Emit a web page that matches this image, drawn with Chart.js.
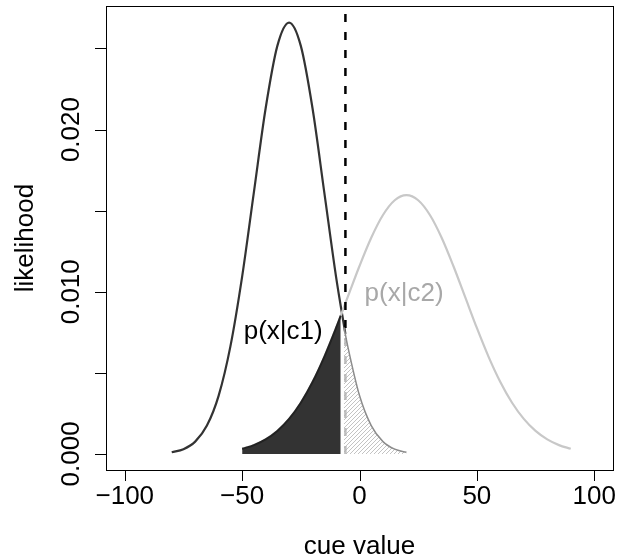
<!DOCTYPE html>
<html>
<head>
<meta charset="utf-8">
<script src="https://cdn.jsdelivr.net/npm/chart.js@4/dist/chart.umd.min.js"></script>
<style>
  html, body { margin: 0; padding: 0; background: #fff; }
  #wrap { width: 618px; height: 559px; }
</style>
</head>
<body>
<div id="wrap"><canvas id="chart" width="618" height="559"></canvas></div>
<script>
// Curve p(x|c1), visible up to the criterion
const c1X = [-80, -75, -70, -65, -60, -55, -50, -45, -40, -35, -30, -25, -20, -15, -10, -6];
const c1Y = [0.000103, 0.000295, 0.000760, 0.001748, 0.003599, 0.006632, 0.010934, 0.016131,
             0.021297, 0.025159, 0.026596, 0.025159, 0.021297, 0.016131, 0.010934, 0.007395];

// Curve p(x|c2)
const c2X = [-50, -45, -40, -35, -30, -25, -20, -15, -10, -5, 0, 5, 10, 15, 20,
             25, 30, 35, 40, 45, 50, 55, 60, 65, 70, 75, 80, 85, 90];
const c2Y = [0.000317, 0.000543, 0.000896, 0.001419, 0.002160, 0.003158, 0.004437, 0.005989,
             0.007768, 0.009679, 0.011588, 0.013329, 0.014731, 0.015642, 0.015958,
             0.015642, 0.014731, 0.013329, 0.011588, 0.009679, 0.007768, 0.005989,
             0.004437, 0.003158, 0.002160, 0.001419, 0.000896, 0.000543, 0.000317];

// Dark area: c2 left of criterion
const darkX = [-50, -45, -40, -35, -30, -25, -20, -15, -10, -8];
const darkY = [0.000317, 0.000543, 0.000896, 0.001419, 0.002160, 0.003158, 0.004437, 0.005989, 0.007768, 0.008523];

// Hatched area: c1 right of criterion
const hatchX = [-6.6, -5, 0, 5, 10, 15, 20];
const hatchY = [0.007796, 0.006632, 0.003599, 0.001748, 0.000760, 0.000295, 0.000103];

const criterion = -6;
const critTop = 0.02762;

const xTicks = [-100, -50, 0, 50, 100];
const yTicks = [0, 0.005, 0.010, 0.015, 0.020, 0.025];
const yTickLabels = ['0.000', '', '0.010', '', '0.020', ''];

const curveLabels = ['p(x|c1)', 'p(x|c2)'];
const curveLabelX = [-32.5, 19];
const curveLabelY = [0.0075, 0.0099];

const FONT = '"Liberation Sans", Arial, sans-serif';

function pts(xs, ys) {
    return xs.map((x, i) => ({ x: x, y: ys[i] }));
}

// diagonal hatch, like R's polygon density lines
function makeHatch() {
    const c = document.createElement('canvas');
    c.width = 4; c.height = 4;
    const g = c.getContext('2d');
    g.fillStyle = 'rgba(255,255,255,0.75)';
    g.fillRect(0, 0, 4, 4);
    g.strokeStyle = '#b4b4b4';
    g.lineWidth = 0.8;
    g.beginPath();
    g.moveTo(0, 4); g.lineTo(4, 0);
    g.moveTo(-1, 1); g.lineTo(1, -1);
    g.moveTo(3, 5); g.lineTo(5, 3);
    g.stroke();
    return g.createPattern(c, 'repeat');
}

// R style frame, ticks and labels
const rAxes = {
    id: 'rAxes',
    afterDraw(chart) {
        const ctx = chart.ctx;
        const a = chart.chartArea;
        const xs = chart.scales.x;
        const ys = chart.scales.y;
        ctx.save();
        ctx.strokeStyle = '#000';
        ctx.lineWidth = 1;
        ctx.strokeRect(Math.round(a.left) + 0.5, Math.round(a.top) + 0.5,
                       Math.round(a.right - a.left), Math.round(a.bottom - a.top));

        ctx.fillStyle = '#000';
        ctx.font = '26px ' + FONT;

        // x axis
        ctx.textAlign = 'center';
        ctx.textBaseline = 'alphabetic';
        ctx.beginPath();
        xTicks.forEach(v => {
            const px = Math.round(xs.getPixelForValue(v)) + 0.5;
            ctx.moveTo(px, a.bottom);
            ctx.lineTo(px, a.bottom + 11);
        });
        ctx.stroke();
        xTicks.forEach(v => {
            const txt = v < 0 ? '\u2212' + Math.abs(v) : String(v);
            ctx.fillText(txt, xs.getPixelForValue(v), a.bottom + 34);
        });
        ctx.fillText('cue value', (a.left + a.right) / 2, 554);

        // y axis
        ctx.beginPath();
        yTicks.forEach(v => {
            const py = Math.round(ys.getPixelForValue(v)) + 0.5;
            ctx.moveTo(a.left, py);
            ctx.lineTo(a.left - 11, py);
        });
        ctx.stroke();
        yTicks.forEach((v, i) => {
            if (!yTickLabels[i]) return;
            ctx.save();
            ctx.translate(79, ys.getPixelForValue(v));
            ctx.rotate(-Math.PI / 2);
            ctx.fillText(yTickLabels[i], 0, 0);
            ctx.restore();
        });
        ctx.save();
        ctx.translate(33, (a.top + a.bottom) / 2);
        ctx.rotate(-Math.PI / 2);
        ctx.fillText('likelihood', 0, 0);
        ctx.restore();

        // curve labels
        ctx.textBaseline = 'middle';
        const colors = ['#000', '#a8a8a8'];
        curveLabels.forEach((t, i) => {
            ctx.fillStyle = colors[i];
            ctx.fillText(t, xs.getPixelForValue(curveLabelX[i]), ys.getPixelForValue(curveLabelY[i]));
        });
        ctx.restore();
    }
};

const ctx = document.getElementById('chart').getContext('2d');
new Chart(ctx, {
    type: 'line',
    data: {
        datasets: [
            {
                label: 'hatch',
                data: pts(hatchX, hatchY),
                borderColor: '#8c8c8c',
                borderWidth: 1.5,
                backgroundColor: makeHatch(),
                fill: 'origin',
                cubicInterpolationMode: 'monotone',
                pointRadius: 0,
                order: 1
            },
            {
                label: 'dark',
                data: pts(darkX, darkY),
                borderColor: '#222',
                borderWidth: 2,
                backgroundColor: '#333333',
                fill: 'origin',
                cubicInterpolationMode: 'monotone',
                pointRadius: 0,
                order: 2
            },
            {
                label: 'criterion',
                data: [{ x: criterion, y: 0 }, { x: criterion, y: critTop }],
                borderColor: '#000',
                borderWidth: 2.5,
                borderDash: [8, 10],
                tension: 0,
                pointRadius: 0,
                fill: false,
                order: 3
            },
            {
                label: 'c2',
                data: pts(c2X, c2Y),
                borderColor: '#c8c8c8',
                borderWidth: 2.2,
                cubicInterpolationMode: 'monotone',
                pointRadius: 0,
                fill: false,
                order: 4
            },
            {
                label: 'c1',
                data: pts(c1X, c1Y),
                borderColor: '#333333',
                borderWidth: 2.2,
                cubicInterpolationMode: 'monotone',
                pointRadius: 0,
                fill: false,
                order: 5
            }
        ]
    },
    options: {
        responsive: false,
        animation: false,
        devicePixelRatio: 1,
        layout: { padding: { left: 106, right: 5, top: 6, bottom: 89 } },
        plugins: { legend: { display: false }, tooltip: { enabled: false } },
        scales: {
            x: { type: 'linear', min: -108, max: 108, display: false },
            y: { type: 'linear', min: -0.00099, max: 0.02762, display: false }
        }
    },
    plugins: [rAxes]
});
</script>
</body>
</html>
